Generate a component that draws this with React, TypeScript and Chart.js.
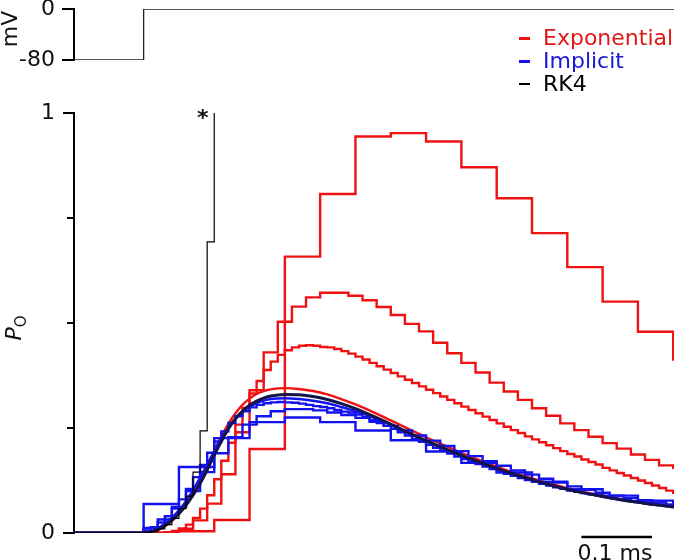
import React, { useEffect, useRef } from "react";
import { Chart, registerables } from "chart.js";

Chart.register(...registerables);

const FONT = "'DejaVu Sans', Verdana, sans-serif";
const RED = "#f01212";
const BLUE = "#1212ee";
const NAVY = "#14144a";

const X_MIN = -0.0986;
const X_MAX = 0.7511;

// Voltage protocol (mV)
const voltageTimes = [X_MIN, 0, X_MAX];
const voltageValues = [-80, 0, 0];
const voltageTicks = [-80, 0];

// P_O axis ticks
const poMajorTicks = [0, 1];
const poMinorTicks = [0.25, 0.5, 0.75];

// Scale bar (ms)
const scaleBarStart = 0.62;
const scaleBarLength = 0.1;

// Exponential, dt = 0.05 ms (value held over each step)
const expDt05Start = 0;
const expDt05 = [0, 0.004, 0.031, 0.2, 0.658, 0.807, 0.944, 0.952, 0.932, 0.871, 0.797, 0.714, 0.633, 0.551, 0.479, 0.413];

// Exponential, dt = 0.02 ms
const expDt02Start = 0.01;
const expDt02 = [0, 0.002, 0.01, 0.03, 0.07, 0.14, 0.24, 0.34, 0.43, 0.503, 0.539, 0.561, 0.572, 0.572, 0.565, 0.554, 0.538, 0.519, 0.498, 0.48, 0.453, 0.428, 0.405, 0.382, 0.358, 0.337, 0.317, 0.297, 0.279, 0.261, 0.245, 0.229, 0.214, 0.201, 0.187, 0.174, 0.161, 0.155];

// Exponential, dt = 0.01 ms
const expDt01Start = 0;
const expDt01 = [
  0, 0, 0.001, 0.002, 0.005, 0.01, 0.02, 0.036, 0.058, 0.09,
  0.128, 0.172, 0.215, 0.258, 0.298, 0.332, 0.362, 0.388, 0.408, 0.424,
  0.435, 0.442, 0.446, 0.447, 0.446, 0.443, 0.442, 0.438, 0.433, 0.427,
  0.42, 0.413, 0.405, 0.397, 0.389, 0.381, 0.373, 0.365, 0.357, 0.349,
  0.341, 0.333, 0.325, 0.317, 0.309, 0.301, 0.293, 0.285, 0.277, 0.269,
  0.261, 0.253, 0.245, 0.238, 0.23, 0.223, 0.216, 0.209, 0.202, 0.195,
  0.188, 0.182, 0.175, 0.169, 0.163, 0.155, 0.149, 0.143, 0.137, 0.131,
  0.125, 0.119, 0.113, 0.107, 0.101, 0.096,
];

// Smooth curves (fine steps)
const fineTimes = [X_MIN, 0, 0.01, 0.02, 0.03, 0.04, 0.05, 0.06, 0.07, 0.08, 0.09, 0.1, 0.11, 0.12, 0.13, 0.14, 0.15, 0.16, 0.17, 0.18, 0.2, 0.22, 0.24, 0.26, 0.28, 0.3, 0.325, 0.35, 0.375, 0.4, 0.425, 0.45, 0.475, 0.5, 0.525, 0.55, 0.575, 0.6, 0.625, 0.65, 0.675, 0.7, 0.725, X_MAX];
const expFine = [0, 0, 0.002, 0.007, 0.016, 0.029, 0.046, 0.068, 0.095, 0.126, 0.16, 0.196, 0.23, 0.26, 0.285, 0.305, 0.32, 0.331, 0.338, 0.342, 0.345, 0.343, 0.338, 0.33, 0.319, 0.306, 0.288, 0.268, 0.248, 0.228, 0.209, 0.191, 0.174, 0.158, 0.143, 0.13, 0.118, 0.107, 0.097, 0.089, 0.081, 0.074, 0.068, 0.063];
const impFine = [0, 0, 0.004, 0.011, 0.022, 0.036, 0.054, 0.076, 0.102, 0.132, 0.163, 0.195, 0.225, 0.251, 0.272, 0.288, 0.3, 0.309, 0.315, 0.319, 0.321, 0.319, 0.315, 0.309, 0.3, 0.29, 0.275, 0.257, 0.238, 0.219, 0.201, 0.184, 0.168, 0.153, 0.139, 0.126, 0.114, 0.104, 0.095, 0.087, 0.079, 0.073, 0.067, 0.062];
const rk4Fine = [0, 0, 0.002, 0.008, 0.017, 0.03, 0.046, 0.066, 0.09, 0.118, 0.15, 0.185, 0.218, 0.248, 0.272, 0.29, 0.304, 0.314, 0.321, 0.326, 0.33, 0.329, 0.325, 0.318, 0.308, 0.296, 0.278, 0.259, 0.239, 0.22, 0.202, 0.185, 0.169, 0.154, 0.14, 0.127, 0.115, 0.104, 0.095, 0.087, 0.079, 0.073, 0.067, 0.062];

// Implicit, dt = 0.05 ms
const impDt05Start = 0;
const impDt05 = [0.069, 0.157, 0.226, 0.264, 0.275, 0.264, 0.244, 0.221, 0.194, 0.167, 0.144, 0.122, 0.104, 0.089, 0.077, 0.067];

// Implicit, dt = 0.02 ms
const impDt02Start = 0;
const impDt02 = [
  0.012, 0.032, 0.062, 0.1, 0.145, 0.19, 0.228, 0.258, 0.278, 0.29,
  0.295, 0.295, 0.292, 0.287, 0.281, 0.274, 0.265, 0.255, 0.244, 0.232,
  0.22, 0.207, 0.195, 0.183, 0.171, 0.16, 0.149, 0.139, 0.129, 0.12,
  0.111, 0.103, 0.096, 0.089, 0.083, 0.078, 0.073, 0.068,
];

// Implicit, dt = 0.01 ms
const impDt01Start = 0;
const impDt01 = [
  0.006, 0.014, 0.025, 0.04, 0.058, 0.08, 0.105, 0.133, 0.162, 0.191,
  0.218, 0.242, 0.262, 0.278, 0.29, 0.299, 0.305, 0.309, 0.311, 0.312,
  0.311, 0.31, 0.308, 0.305, 0.302, 0.3, 0.297, 0.293, 0.289, 0.287,
  0.282, 0.276, 0.269, 0.262, 0.255, 0.248, 0.24, 0.232, 0.224, 0.217,
  0.21, 0.203, 0.196, 0.189, 0.182, 0.176, 0.17, 0.164, 0.158, 0.152,
  0.146, 0.141, 0.136, 0.131, 0.126, 0.122, 0.117, 0.113, 0.109, 0.105,
  0.101, 0.098, 0.095, 0.092, 0.089, 0.086, 0.083, 0.081, 0.078, 0.076,
  0.074, 0.072, 0.07, 0.068, 0.066, 0.064,
];

// RK4, dt = 0.01 ms (diverges: last value off scale, marked *)
const rk4Dt01Start = 0;
const rk4Dt01 = [0.001, 0.004, 0.01, 0.02, 0.035, 0.058, 0.088, 0.145, 0.243, 0.693, 5];

type Pt = { x: number; y: number };

function stepPoints(start: number, dt: number, values: number[], extend = true): Pt[] {
  const pts: Pt[] = [{ x: X_MIN, y: 0 }];
  values.forEach((v, i) => pts.push({ x: start + i * dt, y: v }));
  if (extend) pts.push({ x: X_MAX + 0.02, y: values[values.length - 1] });
  else pts.push({ x: start + values.length * dt, y: values[values.length - 1] });
  return pts;
}

function linePoints(times: number[], values: number[]): Pt[] {
  return times.map((t, i) => ({ x: t, y: values[i] }));
}

function stepDs(data: Pt[], color: string, width: number) {
  return {
    data,
    borderColor: color,
    borderWidth: width,
    stepped: "before" as const,
    pointRadius: 0,
    fill: false,
    borderJoinStyle: "miter" as const,
  };
}

function smoothDs(data: Pt[], color: string, width: number) {
  return {
    data,
    borderColor: color,
    borderWidth: width,
    cubicInterpolationMode: "monotone" as const,
    pointRadius: 0,
    fill: false,
  };
}

function tickPlugin(major: number[], minor: number[], majorLen: number, minorLen: number) {
  return {
    id: "tickMarks",
    afterDraw(chart: any) {
      const y = chart.scales.y;
      const left = chart.chartArea.left;
      const ctx = chart.ctx;
      ctx.save();
      ctx.strokeStyle = "#000";
      ctx.lineWidth = 2;
      const draw = (v: number, len: number) => {
        const py = Math.round(y.getPixelForValue(v));
        ctx.beginPath();
        ctx.moveTo(left - len, py);
        ctx.lineTo(left, py);
        ctx.stroke();
      };
      major.forEach((v) => draw(v, majorLen));
      minor.forEach((v) => draw(v, minorLen));
      ctx.restore();
    },
  };
}

const scaleBarPlugin = {
  id: "scaleBar",
  afterDraw(chart: any) {
    const xs = chart.scales.x;
    const ys = chart.scales.y;
    const ctx = chart.ctx;
    const x1 = xs.getPixelForValue(scaleBarStart);
    const x2 = xs.getPixelForValue(scaleBarStart + scaleBarLength);
    const py = ys.getPixelForValue(0) + 4;
    ctx.save();
    ctx.strokeStyle = "#000";
    ctx.lineWidth = 2.5;
    ctx.beginPath();
    ctx.moveTo(x1, py);
    ctx.lineTo(x2, py);
    ctx.stroke();
    ctx.restore();
  },
};

function yAxisBase(min: number, max: number, tickValues: number[], labelled: number[]) {
  return {
    type: "linear" as const,
    position: "left" as const,
    min,
    max,
    afterFit(scale: any) {
      scale.width = 74;
    },
    afterBuildTicks(scale: any) {
      scale.ticks = tickValues.map((v) => ({ value: v }));
    },
    grid: { display: false, drawTicks: false },
    border: { display: true, color: "#000", width: 2 },
    ticks: {
      padding: 19,
      color: "#111",
      font: { family: FONT, size: 22 },
      callback: (v: any) => (labelled.includes(Number(v)) ? String(v) : ""),
    },
  };
}

export default function App() {
  const topRef = useRef<HTMLCanvasElement>(null);
  const botRef = useRef<HTMLCanvasElement>(null);

  useEffect(() => {
    const top = new Chart(topRef.current!, {
      type: "line",
      data: {
        datasets: [
          {
            data: linePoints(voltageTimes, voltageValues),
            borderColor: "#222",
            borderWidth: 1.3,
            stepped: "before",
            pointRadius: 0,
          },
        ],
      },
      options: {
        responsive: false,
        animation: false,
        events: [],
        layout: { padding: { top: 39, bottom: 33, left: 0, right: 0 } },
        plugins: { legend: { display: false }, tooltip: { enabled: false } },
        scales: {
          x: { type: "linear", min: X_MIN, max: X_MAX, display: false },
          y: yAxisBase(-80, 0, voltageTicks, voltageTicks) as any,
        },
      },
      plugins: [tickPlugin(voltageTicks, [], 12, 7)],
    });

    const bottom = new Chart(botRef.current!, {
      type: "line",
      data: {
        datasets: [
          stepDs(stepPoints(rk4Dt01Start, 0.01, rk4Dt01, false), "#000", 1.2),
          smoothDs(linePoints(fineTimes, rk4Fine), NAVY, 3),
          smoothDs(linePoints(fineTimes, impFine), BLUE, 2.4),
          stepDs(stepPoints(impDt01Start, 0.01, impDt01), BLUE, 2.4),
          stepDs(stepPoints(impDt02Start, 0.02, impDt02), BLUE, 2.4),
          stepDs(stepPoints(impDt05Start, 0.05, impDt05), BLUE, 2.4),
          smoothDs(linePoints(fineTimes, expFine), RED, 2.4),
          stepDs(stepPoints(expDt01Start, 0.01, expDt01), RED, 2.4),
          stepDs(stepPoints(expDt02Start, 0.02, expDt02), RED, 2.4),
          stepDs(stepPoints(expDt05Start, 0.05, expDt05), RED, 2.4),
        ] as any,
      },
      options: {
        responsive: false,
        animation: false,
        events: [],
        layout: { padding: { top: 33, bottom: 33, left: 0, right: 0 } },
        plugins: { legend: { display: false }, tooltip: { enabled: false } },
        scales: {
          x: { type: "linear", min: X_MIN, max: X_MAX, display: false },
          y: yAxisBase(0, 1, [...poMajorTicks, ...poMinorTicks].sort(), poMajorTicks) as any,
        },
      },
      plugins: [tickPlugin(poMajorTicks, poMinorTicks, 11, 7), scaleBarPlugin],
    });

    return () => {
      top.destroy();
      bottom.destroy();
    };
  }, []);

  const txt: React.CSSProperties = {
    position: "absolute",
    fontFamily: FONT,
    fontSize: 22,
    lineHeight: "22px",
    whiteSpace: "nowrap",
  };

  const legendRows = [
    { label: "Exponential", color: RED, textColor: "#e01818", baseline: 46, dash: 3 },
    { label: "Implicit", color: BLUE, textColor: "#1818d8", baseline: 69, dash: 3 },
    { label: "RK4", color: "#000", textColor: "#000", baseline: 92, dash: 1.5 },
  ];

  return (
    <div style={{ position: "absolute", left: 0, top: 0, width: 674, height: 560, overflow: "hidden", background: "#fff" }}>
      <canvas ref={topRef} width={674} height={123} style={{ position: "absolute", left: 0, top: -30 }} />
      <canvas ref={botRef} width={674} height={486} style={{ position: "absolute", left: 0, top: 80 }} />
      <div style={{ ...txt, left: 10.4, top: 29, transform: "translate(-50%, -50%) rotate(-90deg)", color: "#111" }}>mV</div>
      <div style={{ ...txt, left: 16.5, top: 328, transform: "translate(-50%, -50%) rotate(-90deg)", color: "#111" }}>
        <i>P</i>
        <sub style={{ fontSize: 15, verticalAlign: "-5px" }}>O</sub>
      </div>
      {legendRows.map((r) => (
        <React.Fragment key={r.label}>
          <div style={{ position: "absolute", left: 519, width: 11, top: r.baseline - 8 - r.dash / 2, height: r.dash, background: r.color }} />
          <div style={{ ...txt, left: 543, top: r.baseline - 18.6, color: r.textColor }}>{r.label}</div>
        </React.Fragment>
      ))}
      <div style={{ ...txt, left: 197, top: 107, fontWeight: "bold", color: "#111" }}>*</div>
      <div style={{ ...txt, left: 615, top: 542, transform: "translateX(-50%)", color: "#111" }}>0.1 ms</div>
    </div>
  );
}
